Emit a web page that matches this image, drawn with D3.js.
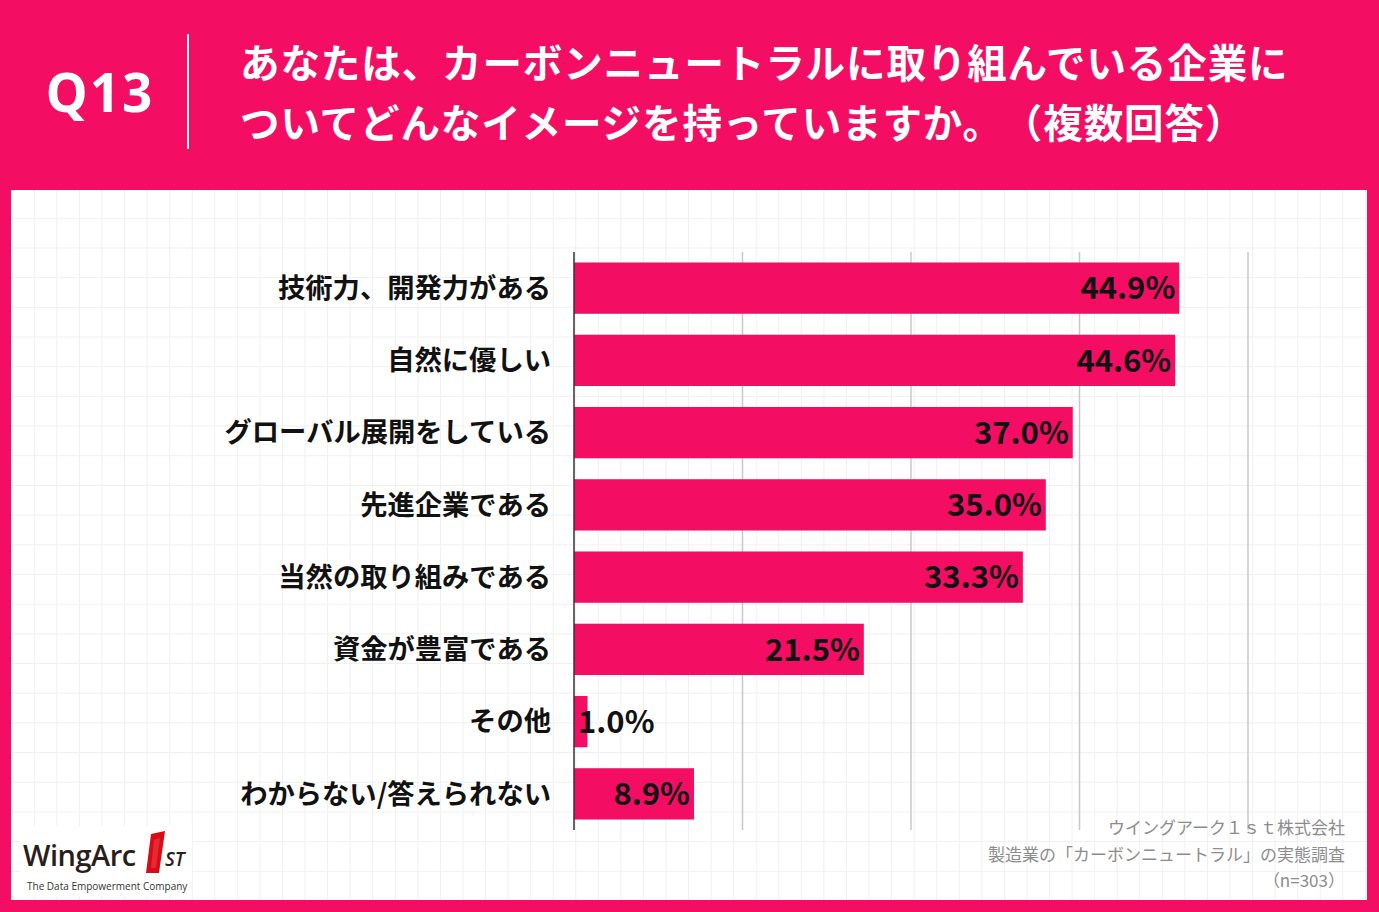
<!DOCTYPE html>
<html><head><meta charset="utf-8">
<script src="https://cdn.jsdelivr.net/npm/d3@7"></script>
<style>
html,body{margin:0;padding:0;background:#fff;}
svg{display:block;text-spacing-trim:space-all;}
</style></head>
<body>
<svg id="chart" width="1379" height="912"></svg>
<script>
const categories = ["技術力、開発力がある","自然に優しい","グローバル展開をしている","先進企業である","当然の取り組みである","資金が豊富である","その他","わからない/答えられない"];
const values = [44.9, 44.6, 37.0, 35.0, 33.3, 21.5, 1.0, 8.9];
const tickValues = [0, 12.5, 25, 37.5, 50];
const titleLines = ["あなたは、カーボンニュートラルに取り組んでいる企業に","ついてどんなイメージを持っていますか。（複数回答）"];
const questionLabel = "Q13";
const sourceLines = ["ウイングアーク１ｓｔ株式会社","製造業の「カーボンニュートラル」の実態調査","（n=303）"];

const PINK = "#F30D63";
const JP = "'Noto Sans CJK JP','Noto Sans',sans-serif";
const svg = d3.select("#chart");
const W = 1379, H = 912;

svg.append("rect").attr("width", W).attr("height", H).attr("fill", PINK);
const panel = {x: 11, y: 190, w: 1356, h: 710};
svg.append("rect").attr("x", panel.x).attr("y", panel.y).attr("width", panel.w).attr("height", panel.h).attr("fill", "#fff");

const bg = svg.append("g").attr("stroke", "#f0f0f0").attr("stroke-width", 1);
const gx = d3.range(34.3, panel.x + panel.w, 22.56);
const gy = d3.range(218.3, panel.y + panel.h, 29.68);
bg.selectAll("line.v").data(gx).join("line").attr("class", "v")
  .attr("x1", d => d).attr("x2", d => d).attr("y1", panel.y).attr("y2", panel.y + panel.h);
bg.selectAll("line.h").data(gy).join("line").attr("class", "h")
  .attr("x1", panel.x).attr("x2", panel.x + panel.w).attr("y1", d => d).attr("y2", d => d);

// Header
svg.append("text").attr("x", 100).attr("y", 112).attr("text-anchor", "middle")
  .attr("fill", "#fff").attr("font-family", "'Noto Sans','Open Sans',sans-serif").attr("font-weight", 700)
  .attr("font-size", 53).attr("letter-spacing", 2).text(questionLabel);
svg.append("line").attr("x1", 188).attr("x2", 188).attr("y1", 34).attr("y2", 149)
  .attr("stroke", "#fff").attr("stroke-width", 2);
svg.selectAll("text.title").data(titleLines).join("text").attr("class", "title")
  .attr("x", 240).attr("y", (d, i) => 78 + i * 60)
  .attr("fill", "#fff").attr("font-family", JP).attr("font-weight", 700).attr("font-size", 39.5)
  .attr("letter-spacing", 0.9)
  .text(d => d);

// Chart
const x0 = 574, x1 = 1248, yTop = 252, yBot = 830;
const x = d3.scaleLinear().domain([0, 50]).range([x0, x1]);
const y = d3.scaleBand().domain(categories).range([yTop, yBot]).paddingInner(0.29).paddingOuter(0.145);

const grid = svg.append("g");
grid.selectAll("line").data(tickValues.filter(t => t > 0)).join("line")
  .attr("x1", d => x(d)).attr("x2", d => x(d)).attr("y1", yTop).attr("y2", yBot)
  .attr("stroke", "#c8c8c8").attr("stroke-width", 1.5);

svg.append("g").selectAll("rect").data(values).join("rect")
  .attr("x", x(0)).attr("y", (d, i) => y(categories[i]))
  .attr("width", d => x(d) - x(0)).attr("height", y.bandwidth())
  .attr("fill", PINK);

const yAxis = d3.axisLeft(y).tickSize(0).tickPadding(23);
const ax = svg.append("g").attr("transform", `translate(${x0},0)`).call(yAxis);
ax.select(".domain").attr("stroke", "#333").attr("stroke-width", 1.5).attr("d", `M0,${yTop}V${yBot}`);
ax.selectAll("text").attr("font-family", JP).attr("font-weight", 700).attr("font-size", 27.3)
  .attr("fill", "#111").attr("dy", "0.36em");

svg.append("g").selectAll("text").data(values).join("text")
  .attr("x", d => d < 5 ? x(0) + 4 : x(d) - 4)
  .attr("y", (d, i) => y(categories[i]) + y.bandwidth() / 2)
  .attr("dy", "0.36em")
  .attr("text-anchor", d => d < 5 ? "start" : "end")
  .attr("font-family", JP).attr("font-weight", 700).attr("font-size", 31).attr("fill", "#111")
  .text(d => d.toFixed(1) + "%");

svg.selectAll("text.src").data(sourceLines).join("text").attr("class", "src")
  .attr("x", 1345).attr("y", (d, i) => 834 + i * 26.5)
  .attr("text-anchor", "end").attr("fill", "#8c8c8c").attr("font-family", JP).attr("font-size", 17)
  .text(d => d);

// logo
const logo = svg.append("g");
logo.append("rect").attr("x", 20).attr("y", 826).attr("width", 172).attr("height", 70).attr("fill", "#fff");
logo.append("text").attr("x", 23).attr("y", 866).attr("fill", "#2a1e1c")
  .attr("font-family", "'Open Sans',sans-serif").attr("font-weight", 600).attr("font-size", 29)
  .attr("letter-spacing", -0.5).text("WingArc");
logo.append("path").attr("d", "M151,834 L165,831 L159,873 L146,873 Z").attr("fill", "#d80c18");
logo.append("path").attr("d", "M154,840 L160,838 L156,868 L151,868 Z").attr("fill", "#f04040").attr("opacity", 0.6);
logo.append("text").attr("x", 165).attr("y", 866).attr("fill", "#2a1e1c")
  .attr("font-family", "'Open Sans',sans-serif").attr("font-style", "italic").attr("font-weight", 600)
  .attr("font-size", 19).text("ST");
logo.append("text").attr("x", 27).attr("y", 890).attr("fill", "#333")
  .attr("font-family", "'Open Sans',sans-serif").attr("font-size", 10).text("The Data Empowerment Company");
</script>
</body></html>
